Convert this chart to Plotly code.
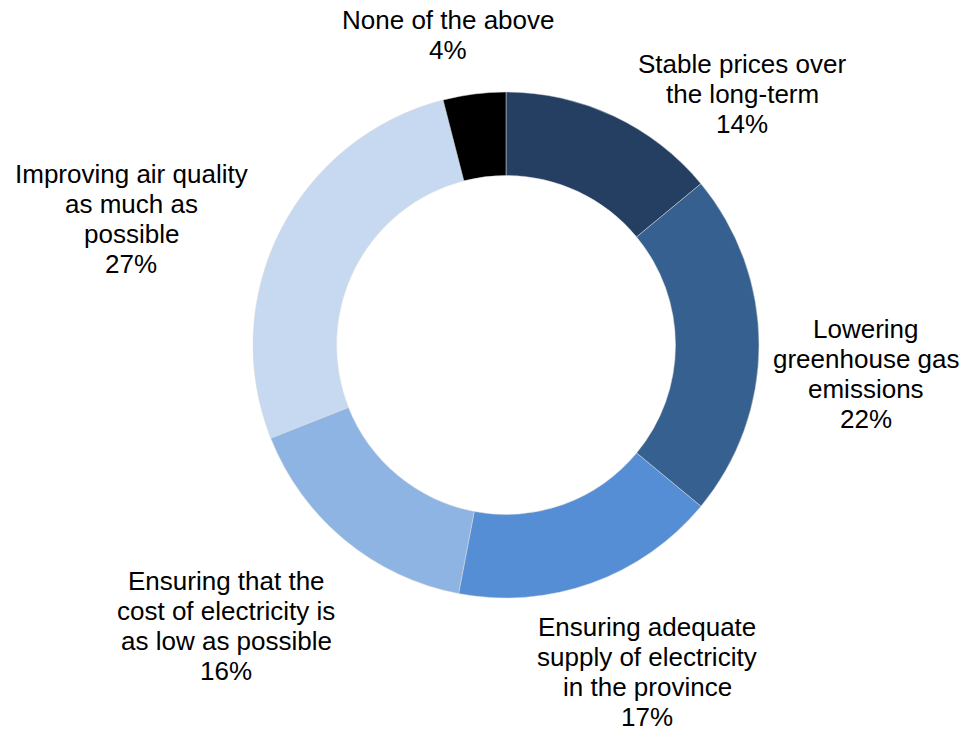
import plotly.graph_objects as go

categories = [
    "Stable prices over<br>the long-term",
    "Lowering<br>greenhouse gas<br>emissions",
    "Ensuring adequate<br>supply of electricity<br>in the province",
    "Ensuring that the<br>cost of electricity is<br>as low as possible",
    "Improving air quality<br>as much as<br>possible",
    "None of the above",
]
values = [14, 22, 17, 16, 27, 4]
colors = ["#253F63", "#36608F", "#558ED5", "#8EB4E3", "#C6D9F1", "#000000"]

OFF = 8  # page body margin
W, H = 968 - 2 * OFF, 731 - OFF
cx, cy, R = 506 - OFF, 345 - OFF, 253
FONT = "Liberation Sans, Arial, sans-serif"
FS = 26
LINE = 30

# label block anchors (screen pixel centre of first line), layout only
label_anchor = [(742, 64), (866, 329), (647, 627), (226, 581), (131, 174), (448, 20)]

fig = go.Figure(go.Pie(
    labels=categories,
    values=values,
    sort=False,
    direction="clockwise",
    rotation=0,
    hole=0.67,
    marker=dict(colors=colors, line=dict(color="#D9D9D9", width=0.5)),
    textinfo="none",
    hoverinfo="label+percent",
    domain=dict(x=[(cx - R) / W, (cx + R) / W], y=[(H - cy - R) / H, (H - cy + R) / H]),
    showlegend=False,
    automargin=False,
))

annotations = []
for cat, val, (ax, ay) in zip(categories, values, label_anchor):
    lines = cat.split("<br>") + [f"{val}%"]
    for i, ln in enumerate(lines):
        annotations.append(dict(
            text=ln, x=(ax - OFF) / W, y=1 - (ay - OFF + i * LINE) / H,
            xref="paper", yref="paper", xanchor="center", yanchor="middle",
            showarrow=False, font=dict(family=FONT, size=FS, color="#000000"),
        ))

fig.update_layout(
    width=W, height=H,
    margin=dict(l=0, r=0, t=0, b=0),
    paper_bgcolor="white",
    plot_bgcolor="white",
    annotations=annotations,
)
fig.write_html("out.html")
